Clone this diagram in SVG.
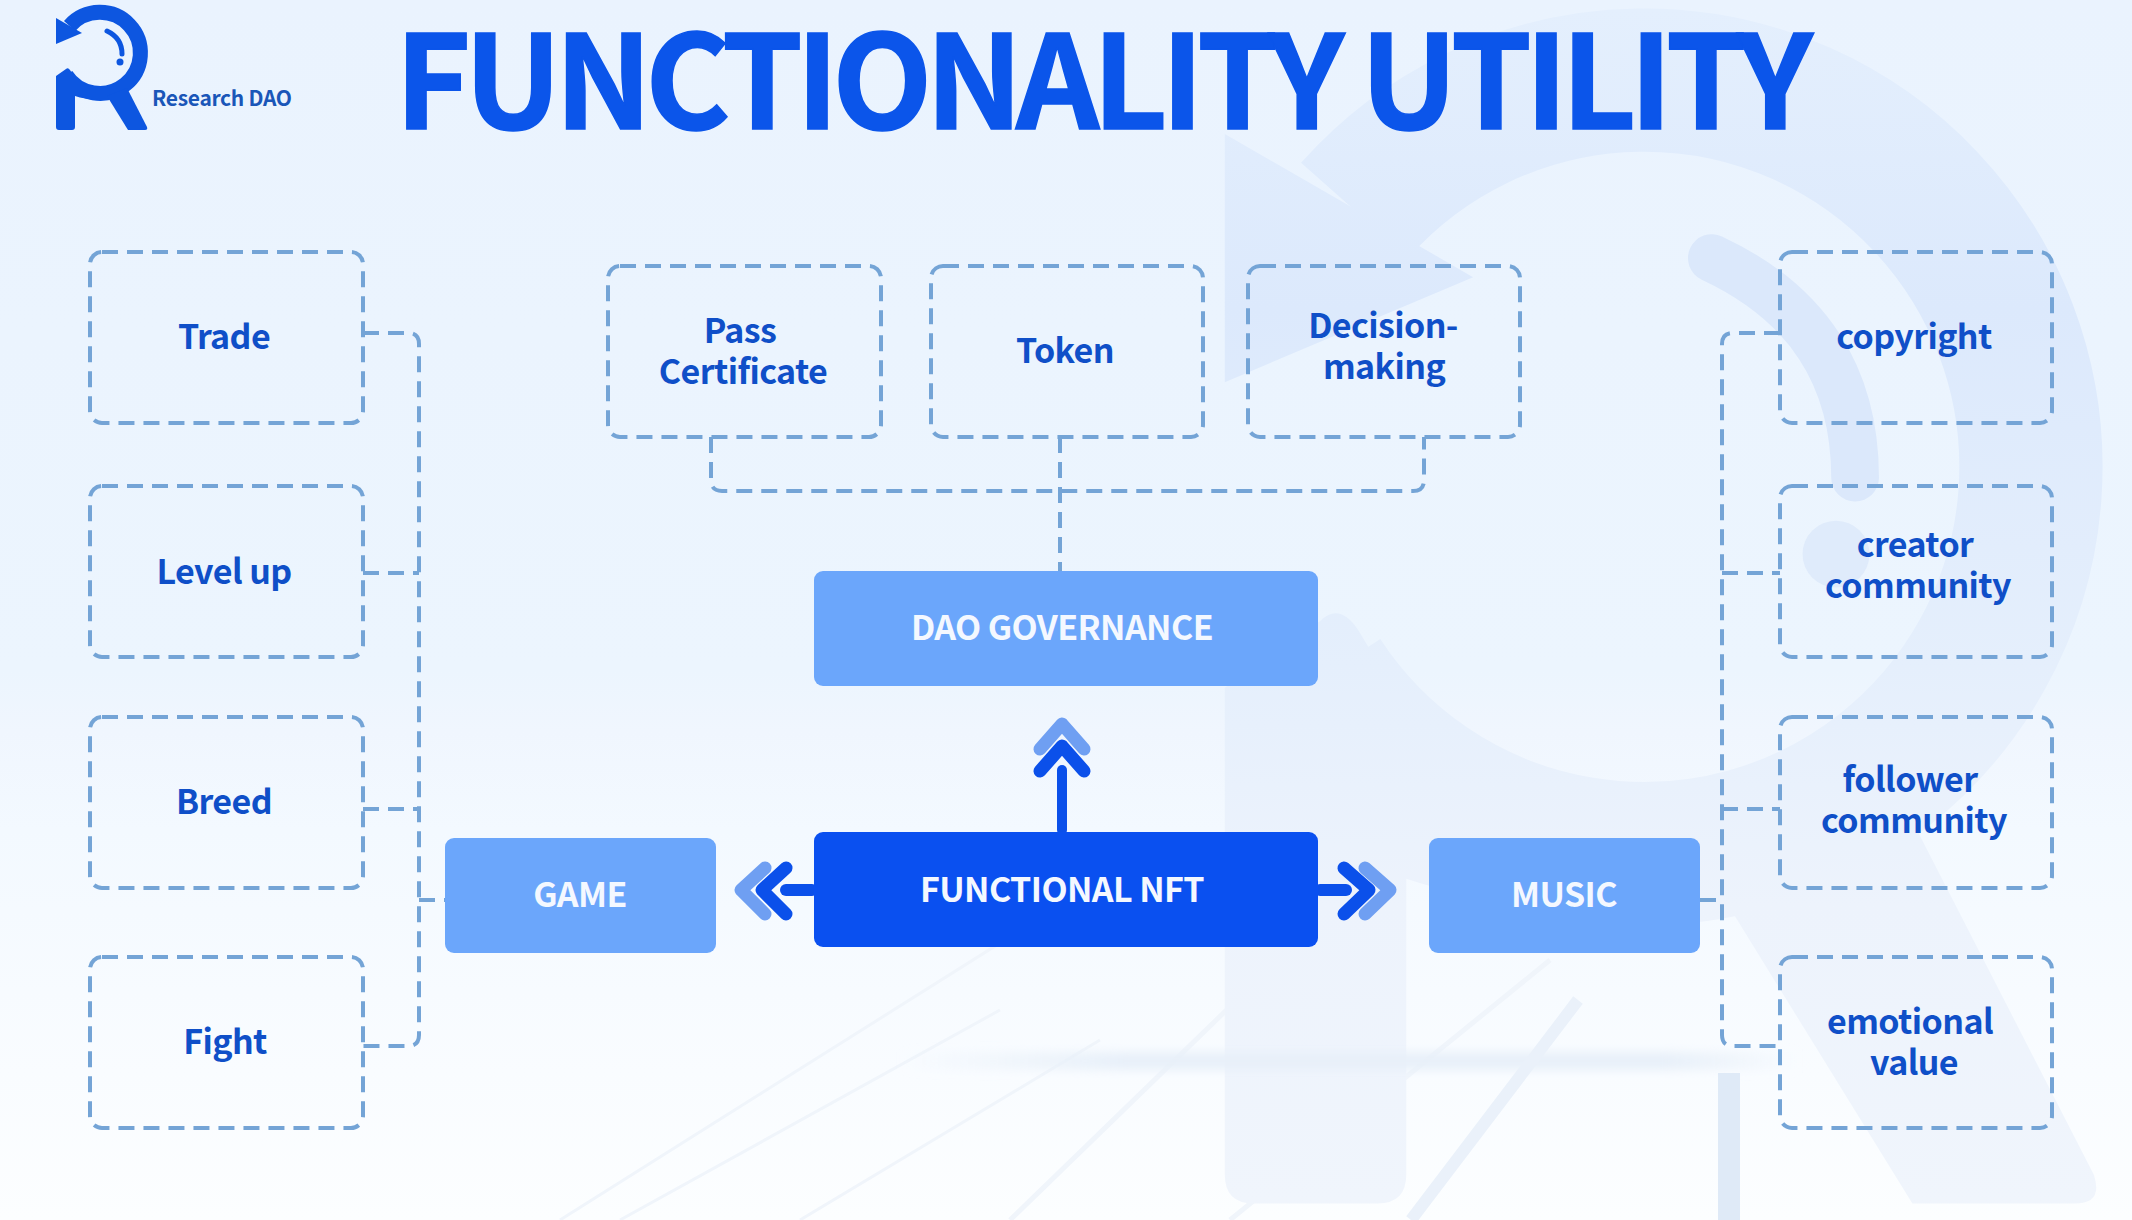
<svg xmlns="http://www.w3.org/2000/svg" width="2132" height="1220" viewBox="0 0 2132 1220">
<defs>
<linearGradient id="bg" x1="0" y1="0" x2="0" y2="1"><stop offset="0" stop-color="#eaf3fe"/><stop offset="0.55" stop-color="#ecf5fe"/><stop offset="0.6" stop-color="#f0f6fe"/><stop offset="0.68" stop-color="#f3f9ff"/><stop offset="0.88" stop-color="#f9fcff"/><stop offset="1" stop-color="#fcfeff"/></linearGradient>
<linearGradient id="wm" gradientUnits="userSpaceOnUse" x1="0" y1="5" x2="0" y2="130"><stop offset="0" stop-color="#e4effd"/><stop offset="0.25" stop-color="#dce9fc"/><stop offset="0.55" stop-color="#e5effc"/><stop offset="0.75" stop-color="#edf3fc"/><stop offset="1" stop-color="#f0f5fc"/></linearGradient>
<linearGradient id="hz" x1="0" y1="0" x2="1" y2="0"><stop offset="0" stop-color="#e8f0f9" stop-opacity="0"/><stop offset="0.25" stop-color="#e8f0f9"/><stop offset="0.85" stop-color="#e8f0f9"/><stop offset="1" stop-color="#e8f0f9" stop-opacity="0"/></linearGradient>
<filter id="soft" x="-10%" y="-100%" width="120%" height="300%"><feGaussianBlur stdDeviation="5"/></filter>
<style>
.lab{font-family:"Noto Sans CJK SC","Noto Sans",sans-serif;font-weight:700;font-size:34px;letter-spacing:-0.6px;fill:#0f4fc8;text-anchor:middle}
.wl{font-family:"Noto Sans CJK SC","Noto Sans",sans-serif;font-weight:700;font-size:34px;letter-spacing:-0.6px;fill:#f4f8ff;text-anchor:middle}
.box{fill:none;stroke:#74a4d6;stroke-width:4;stroke-dasharray:16 9}
.con{fill:none;stroke:#74a4d6;stroke-width:4;stroke-dasharray:16 9}
.light{fill:#6ba6fb}
.ch1{fill:none;stroke:#0b50ea;stroke-width:13;stroke-linecap:round;stroke-linejoin:round}
.ch2{fill:none;stroke:#6f9ff2;stroke-width:13;stroke-linecap:round;stroke-linejoin:round}
.st{fill:none;stroke:#0b50ea;stroke-linecap:round}
.per{fill:none;stroke:#f0f5fb}
</style>
</defs>
<rect width="2132" height="1220" fill="url(#bg)"/>
<g id="perspective">
<path class="per" stroke-width="3" d="M1100 880L560 1220M1000 1010L620 1220M1100 1040L800 1220"/>
<path class="per" stroke-width="5" d="M1340 900L1010 1220M1550 960L1230 1220"/>
</g>
<g id="watermark" transform="translate(690,-38) scale(9.55)">
<path d="M69.6 26A40.5 40.5 0 1 1 66 75" fill="none" stroke="url(#wm)" stroke-width="15"/>
<path d="M56 18L82 33L56 44Z" fill="url(#wm)"/>
<path d="M56 76L66 69Q68 67 70 70A33 33 0 0 0 99 87V100Q84 99 75 96V127Q75 130 72 130H59Q56 130 56 127Z" fill="url(#wm)"/>
<path d="M107 96L127 88L147 127Q148 130 145 130H128Z" fill="url(#wm)"/>
<path d="M107 31Q122 38 122 54" fill="none" stroke="#dbe8fb" stroke-width="5" stroke-linecap="round"/>
<circle cx="120" cy="62" r="3.5" fill="#dfebfb"/>
</g>
<g id="horizon">
<rect x="900" y="1052" width="900" height="18" fill="url(#hz)" filter="url(#soft)"/>
<path d="M1729 1073V1220" stroke="#dfeaf7" stroke-width="22"/>
<path d="M1578 1000L1411 1220" stroke="#eaf1fa" stroke-width="12"/>
</g>
<g id="logo">
<path d="M69.6 26A40.5 40.5 0 1 1 66 75" fill="none" stroke="#0d56e0" stroke-width="15"/>
<path d="M56 18L82 33L56 44Z" fill="#0d56e0"/>
<path d="M56 76L66 69Q68 67 70 70A33 33 0 0 0 99 87V100Q84 99 75 96V127Q75 130 72 130H59Q56 130 56 127Z" fill="#0d56e0"/>
<path d="M107 96L127 88L147 127Q148 130 145 130H128Z" fill="#0d56e0"/>
<path d="M107 31Q122 38 122 54" fill="none" stroke="#0d56e0" stroke-width="5" stroke-linecap="round"/>
<circle cx="120" cy="62" r="3.5" fill="#0d56e0"/>
<text x="152" y="106" font-family="'Noto Sans CJK SC','Noto Sans',sans-serif" font-weight="700" font-size="21" fill="#1a56b8" textLength="140" lengthAdjust="spacing">Research DAO</text>
</g>
<text id="title" x="395" y="129" font-family="'Noto Sans CJK SC','Noto Sans',sans-serif" font-weight="700" font-size="130" fill="#0b55ea" stroke="#0b55ea" stroke-width="1.5" textLength="1418" lengthAdjust="spacing">FUNCTIONALITY UTILITY</text>
<g id="connectors">
<path class="con" d="M363 333H408Q419 333 419 344V1035Q419 1046 408 1046H363"/>
<path class="con" d="M363 573H419M363 809H419M419 900H445"/>
<path class="con" d="M1780 333H1733Q1722 333 1722 344V1035Q1722 1046 1733 1046H1780"/>
<path class="con" d="M1722 573H1780M1722 809H1780M1700 900H1722"/>
<path class="con" d="M711 437V480Q711 491 722 491H1413Q1424 491 1424 480V437"/>
<path class="con" d="M1060 437V571"/>
<path class="st" stroke-width="10" d="M1062 830V770"/>
<path class="ch1" d="M1040 771L1062 746L1084 771"/>
<path class="ch2" d="M1040 749L1062 724L1084 749"/>
<path class="st" stroke-width="12" d="M812 890H786"/>
<path class="ch1" d="M786 868L762 890L786 914"/>
<path class="ch2" d="M765 868L741 890L765 914"/>
<path class="st" stroke-width="12" d="M1320 890H1346"/>
<path class="ch1" d="M1344 868L1369 890L1344 914"/>
<path class="ch2" d="M1365 868L1390 890L1365 914"/>
</g>
<g id="n-trade"><rect class="box" x="90" y="252" width="273" height="171" rx="12"/><text class="lab" x="224" y="349">Trade</text></g>
<g id="n-levelup"><rect class="box" x="90" y="486" width="273" height="171" rx="12"/><text class="lab" x="224" y="584">Level up</text></g>
<g id="n-breed"><rect class="box" x="90" y="717" width="273" height="171" rx="12"/><text class="lab" x="224" y="814">Breed</text></g>
<g id="n-fight"><rect class="box" x="90" y="957" width="273" height="171" rx="12"/><text class="lab" x="225" y="1054">Fight</text></g>
<g id="n-pass"><rect class="box" x="608" y="266" width="273" height="171" rx="12"/><text class="lab" x="740" y="343">Pass</text><text class="lab" x="743" y="384">Certificate</text></g>
<g id="n-token"><rect class="box" x="931" y="266" width="272" height="171" rx="12"/><text class="lab" x="1065" y="363">Token</text></g>
<g id="n-decision"><rect class="box" x="1248" y="266" width="272" height="171" rx="12"/><text class="lab" x="1383" y="338">Decision-</text><text class="lab" x="1384" y="379">making</text></g>
<g id="n-copyright"><rect class="box" x="1780" y="252" width="272" height="171" rx="12"/><text class="lab" x="1914" y="349">copyright</text></g>
<g id="n-creator"><rect class="box" x="1780" y="486" width="272" height="171" rx="12"/><text class="lab" x="1915" y="557">creator</text><text class="lab" x="1918" y="598">community</text></g>
<g id="n-follower"><rect class="box" x="1780" y="717" width="272" height="171" rx="12"/><text class="lab" x="1910" y="792">follower</text><text class="lab" x="1914" y="833">community</text></g>
<g id="n-emotional"><rect class="box" x="1780" y="957" width="272" height="171" rx="12"/><text class="lab" x="1910" y="1034">emotional</text><text class="lab" x="1914" y="1075">value</text></g>
<g id="n-dao"><rect class="light" x="814" y="571" width="504" height="115" rx="9"/><text class="wl" x="1062" y="640">DAO GOVERNANCE</text></g>
<g id="n-nft"><rect x="814" y="832" width="504" height="115" rx="9" fill="#0a50f0"/><text class="wl" x="1062" y="902">FUNCTIONAL NFT</text></g>
<g id="n-game"><rect class="light" x="445" y="838" width="271" height="115" rx="9"/><text class="wl" x="580" y="907">GAME</text></g>
<g id="n-music"><rect class="light" x="1429" y="838" width="271" height="115" rx="9"/><text class="wl" x="1564" y="907">MUSIC</text></g>
</svg>
